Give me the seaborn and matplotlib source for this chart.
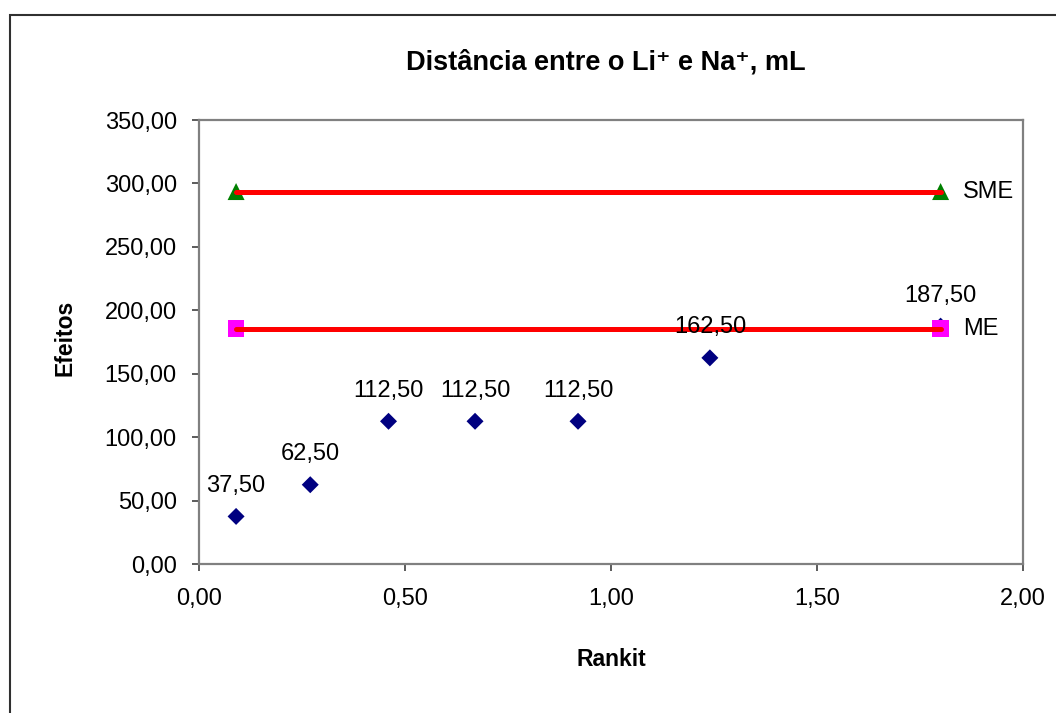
import matplotlib
matplotlib.use('Agg')
import matplotlib.pyplot as plt
import seaborn as sns
from matplotlib.ticker import FuncFormatter, MultipleLocator
from matplotlib.patches import Rectangle

# Data
rankit = [0.09, 0.27, 0.46, 0.67, 0.92, 1.24, 1.80]
efeitos = [37.5, 62.5, 112.5, 112.5, 112.5, 162.5, 187.5]
me_x = [0.09, 1.80]
me_y = [185.6, 185.6]
sme_x = [0.09, 1.80]
sme_y = [293.6, 293.6]

sns.set_theme(style='white')
plt.rcParams['font.family'] = ['Liberation Sans', 'DejaVu Sans']
plt.rcParams['text.color'] = 'black'

W, H = 1056, 713
fig = plt.figure(figsize=(W / 100, H / 100), dpi=100)
fig.patch.set_facecolor('white')
L, R, T, B = 199, 1023, 120, 564
ax = fig.add_axes([L / W, 1 - B / H, (R - L) / W, (B - T) / H])
ax.set_facecolor('white')

# data points
sns.scatterplot(x=rankit, y=efeitos, marker='D', color='#000080', s=75,
                edgecolor='none', ax=ax, zorder=3, legend=False)
# ME
sns.scatterplot(x=me_x, y=me_y, marker='s', color='#FF00FF', s=140,
                edgecolor='none', ax=ax, zorder=4, legend=False)
sns.lineplot(x=me_x, y=me_y, color='#FF0000', lw=3.6, ax=ax, zorder=5,
             solid_capstyle='round', legend=False)
# SME
sns.scatterplot(x=sme_x, y=sme_y, marker='^', color='#008000', s=150,
                edgecolor='none', ax=ax, zorder=4, legend=False)
sns.lineplot(x=sme_x, y=sme_y, color='#FF0000', lw=3.6, ax=ax, zorder=5,
             solid_capstyle='round', legend=False)

fmt = lambda v: f"{v:.2f}".replace('.', ',')
for x, y in zip(rankit, efeitos):
    ax.annotate(fmt(y), (x, y), xytext=(0, 22), textcoords='offset points',
                ha='center', va='center', fontsize=17, color='black', zorder=6)
ax.annotate('ME', (me_x[-1], me_y[-1]), xytext=(16, 0), textcoords='offset points',
            ha='left', va='center', fontsize=17, color='black')
ax.annotate('SME', (sme_x[-1], sme_y[-1]), xytext=(16, 0), textcoords='offset points',
            ha='left', va='center', fontsize=17, color='black')

ax.set_xlim(0, 2)
ax.set_ylim(0, 350)
ax.xaxis.set_major_locator(MultipleLocator(0.5))
ax.yaxis.set_major_locator(MultipleLocator(50))
ax.xaxis.set_major_formatter(FuncFormatter(lambda v, p: fmt(v)))
ax.yaxis.set_major_formatter(FuncFormatter(lambda v, p: fmt(v)))
ax.tick_params(axis='both', which='major', direction='out', length=5, width=1.2,
               color='#404040', labelsize=17, labelcolor='black',
               bottom=True, left=True)
ax.tick_params(axis='y', pad=11)
ax.tick_params(axis='x', pad=12)
for s in ax.spines.values():
    s.set_color('#808080')
    s.set_linewidth(1.6)
ax.grid(False)
ax.set_xlabel('')
ax.set_ylabel('')

fig.text(606 / W, 1 - 63 / H, 'Distância entre o Li⁺ e Na⁺, mL', ha='center', va='center',
         fontsize=19.5, fontweight='bold', color='black')
fig.text(65 / W, 1 - 338 / H, 'Efeitos', ha='center', va='center', rotation=90,
         fontsize=16.5, fontweight='bold', color='black')
fig.text(611 / W, 1 - 660 / H, 'Rankit', ha='center', va='center',
         fontsize=16.5, fontweight='bold', color='black')

fig.patches.append(Rectangle((10 / W, -0.1), 1.2, 1 - 15 / H + 0.1, transform=fig.transFigure,
                             fill=False, edgecolor='#303030', lw=1.5))

fig.savefig('out.png', dpi=100, facecolor='white')
